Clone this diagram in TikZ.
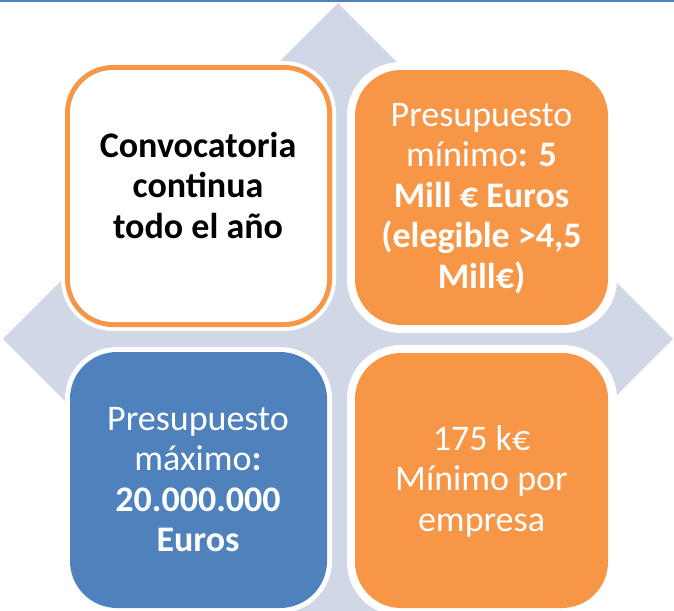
\documentclass[tikz,border=0pt]{standalone}
\usepackage{fontspec}
\setmainfont{Carlito}
\definecolor{acorange}{HTML}{F79646}
\definecolor{acblue}{HTML}{4F81BD}
\definecolor{diam}{HTML}{D0D8E8}
\newcommand{\cellstack}[1]{\begin{tabular}[t]{@{}c@{}}#1\end{tabular}}
\begin{document}
\begin{tikzpicture}[x=1pt,y=-1pt,
  lbl/.style={inner sep=0pt, anchor=base, font=\fontsize{36}{40.5}\selectfont},
  ring/.style={fill=white},
  ]
\useasboundingbox (0,0) rectangle (674,610);
\clip (0,0) rectangle (674,610);
% background diamond
\fill[diam] (338,3) -- (673,339) -- (338,675) -- (3,339) -- cycle;
% white rings
\fill[ring, rounded corners=52pt] (61,61) rectangle (336,331);
\fill[ring, rounded corners=54pt] (347,62) rectangle (617,333);
\fill[ring, rounded corners=52pt] (65,347) rectangle (332,613);
\fill[ring, rounded corners=54pt] (347,345) rectangle (617,616);
% boxes
\fill[acorange, rounded corners=48pt] (65,65) rectangle (332,327);
\fill[white, rounded corners=43pt] (70,70) rectangle (327,322);
\fill[acorange, rounded corners=46pt] (355,70) rectangle (608,325);
\fill[acblue, rounded corners=47pt] (70,352) rectangle (327,608);
\fill[acorange, rounded corners=46pt] (355,353) rectangle (608,608);
% texts
\node[lbl, text=black] (t1) at (198,157) {\cellstack{\textbf{Convocatoria}\\\textbf{continua}\\\textbf{todo el año}}};
\node[lbl, text=white] (t2) at (481.5,126) {\cellstack{Presupuesto\\mínimo\textbf{: 5}\\\textbf{Mill € Euros}\\\textbf{(elegible >4,5}\\\textbf{Mill€)}}};
\node[lbl, text=white] (t3) at (198,430) {\cellstack{Presupuesto\\máximo\textbf{:}\\\textbf{20.000.000}\\\textbf{Euros}}};
\node[lbl, text=white] (t4) at (481.5,450) {\cellstack{175 k€\\Mínimo por\\empresa}};
% top rule
\fill[acblue] (0,0) rectangle (674,2);
\end{tikzpicture}
\end{document}
